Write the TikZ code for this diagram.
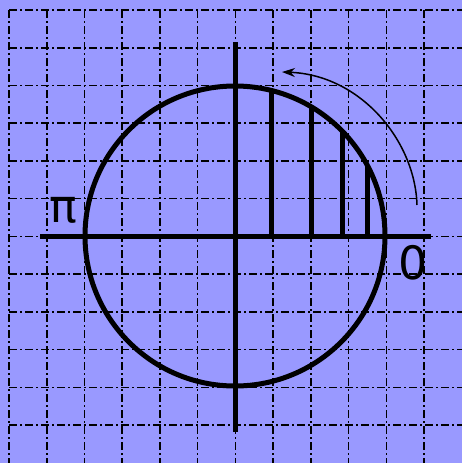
\documentclass[tikz,border=0pt]{standalone}
\usepackage{fontspec}
\setmainfont{DejaVu Sans}
\usetikzlibrary{arrows.meta}
\definecolor{bgblue}{RGB}{153,153,255}
\begin{document}
\begin{tikzpicture}[x=1pt,y=-1pt,
  gridline/.style={line width=1.6pt, dash pattern=on 8pt off 3pt on 2pt off 3pt},
  thick line/.style={line width=5pt},
  lbl/.style={font=\fontsize{46}{46}\selectfont, inner sep=0pt}]
\useasboundingbox (0,0) rectangle (462,463);
\fill[bgblue] (0,0) rectangle (462,463);
% grid
\foreach \k in {0,...,11} {
  \draw[gridline] ({9+37.73*\k},10) -- ({9+37.73*\k},463);
  \draw[gridline] (9,{10+37.73*\k}) -- (462,{10+37.73*\k});
}
% axes
\coordinate (O) at (235,236);
\draw[thick line] (40,236) -- (431,236);
\draw[thick line] (235,42) -- (235,432);
% circle
\draw[thick line] (O) circle[radius=150];
% vertical chords
\foreach \xx in {271,311,342,367} {
  \draw[thick line] (\xx,236) -- (\xx,{236-150*sqrt(1-((\xx-235)/150)^2)});
}
% arrow
\coordinate (As) at (417,205);
\coordinate (Ae) at (282,72);
\draw[line width=1.5pt, -{Stealth[length=13pt,width=9pt]}] (As) .. controls (415,140) and (360,75) .. (Ae);
% labels
\node[lbl] (pi) at (63,210) {π};
\node[lbl] (zero) at (413,263) {0};
\end{tikzpicture}
\end{document}
